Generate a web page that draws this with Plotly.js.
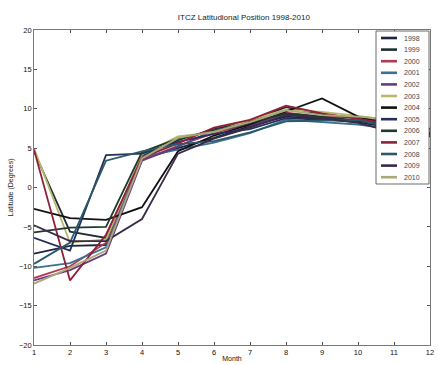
<!DOCTYPE html>
<html>
<head>
<meta charset="utf-8">
<script src="https://cdn.plot.ly/plotly-3.0.1.min.js"></script>
<style>html,body{margin:0;padding:0;background:#fff;}#chart{width:438px;height:365px;}</style>
</head>
<body>
<div id="chart"></div>
<script>
var months = [1,2,3,4,5,6,7,8,9,10,11,12];
var years = ['1998','1999','2000','2001','2002','2003','2004','2005','2006','2007','2008','2009','2010'];
var colors = ['#1c2440','#1f2f2f','#b03a55','#3a7090','#6a3a80','#b8b870','#111111','#25305a','#1f3a2a','#902038','#2a5a6a','#3a2a48','#a8a878'];

var y1998 = [-8.4, -7.4, -7.3, 3.6, 5.0, 6.3, 7.8, 9.0, 8.7, 8.3, 7.5, 7.1];
var y1999 = [4.6, -5.6, -6.4, 4.0, 6.0, 7.4, 8.4, 10.2, 9.3, 8.8, 8.3, 7.3];
var y2000 = [-11.5, -10.0, -7.0, 3.5, 5.3, 6.9, 8.1, 9.5, 9.0, 8.9, 8.1, 6.7];
var y2001 = [-10.2, -9.6, -7.6, 3.9, 4.8, 5.7, 6.9, 8.6, 8.3, 8.0, 7.4, 6.9];
var y2002 = [-11.8, -10.5, -8.4, 3.4, 5.2, 7.3, 7.9, 9.3, 8.9, 8.5, 7.7, 7.0];
var y2003 = [5.0, -7.0, -6.6, 4.2, 6.5, 7.0, 8.6, 9.9, 9.6, 9.1, 8.5, 7.5];
var y2004 = [-2.7, -3.9, -4.1, -2.5, 4.6, 6.6, 8.0, 9.7, 11.3, 9.0, 7.8, 6.8];
var y2005 = [-6.4, -8.0, 4.1, 4.3, 5.8, 6.8, 7.4, 8.8, 8.6, 8.4, 8.2, 7.4];
var y2006 = [-5.7, -5.1, -5.0, 4.5, 6.2, 7.2, 8.2, 9.4, 9.0, 8.5, 7.9, 7.2];
var y2007 = [4.8, -11.8, -6.0, 3.8, 5.6, 7.6, 8.6, 10.4, 9.4, 8.7, 8.0, 6.6];
var y2008 = [-9.7, -7.0, 3.4, 4.6, 5.5, 5.9, 7.0, 8.4, 8.5, 8.6, 7.6, 7.0];
var y2009 = [-4.8, -6.8, -6.8, -4.0, 4.3, 6.2, 7.6, 9.2, 8.8, 8.2, 7.0, 6.5];
var y2010 = [-12.2, -10.2, -8.0, 3.7, 6.3, 7.1, 8.3, 9.8, 9.2, 9.0, 8.6, 7.2];

var series = [y1998,y1999,y2000,y2001,y2002,y2003,y2004,y2005,y2006,y2007,y2008,y2009,y2010];

var traces = series.map(function(s, i){
  return {x: months, y: s, type:'scatter', mode:'lines', name: years[i],
          line:{color: colors[i], width:1.8}, showlegend:false};
});

// plot area in pixels: left 34, right 430, top 30, bottom 345
var L=34, R=430, T=30, B=345;
function px(x){ return (x-L)/(R-L); }
function py(y){ return (B-y)/(B-T); }

var shapes = [{type:'rect', xref:'paper', yref:'paper', x0:px(376), x1:px(429), y0:py(184), y1:py(31),
  fillcolor:'#ffffff', line:{color:'#444', width:0.8}, layer:'above'}];
var annotations = [];
years.forEach(function(yr, i){
  var yy = py(38 + i*11.6);
  shapes.push({type:'line', xref:'paper', yref:'paper', x0:px(381), x1:px(397), y0:yy, y1:yy,
    line:{color: colors[i], width:2.6}, layer:'above'});
  annotations.push({xref:'paper', yref:'paper', x:px(402), y:yy, text: yr, showarrow:false,
    xanchor:'left', yanchor:'middle', font:{family:'Liberation Sans, Arial, sans-serif', size:7, color:'#444'}});
});

var layout = {
  width:438, height:365,
  margin:{l:L, r:438-R, t:T, b:365-B, pad:0},
  paper_bgcolor:'#fff', plot_bgcolor:'#fff',
  font:{family:'Liberation Sans, Arial, sans-serif', size:7, color:'#222'},
  title:{text:'ITCZ Latitudional Position 1998-2010', x:0.53, xref:'paper', y:1-17/365, yref:'container', yanchor:'middle',
    font:{size:8, color:'#222'}},
  showlegend:false,
  xaxis:{range:[1,12], tickmode:'array', tickvals:months, ticktext:months.map(String),
    ticks:'inside', ticklen:3, tickcolor:'#555', showgrid:false, zeroline:false,
    showline:true, linecolor:'#555', linewidth:0.8, mirror:'ticks',
    tickfont:{size:7.5, color:'#111'},
    title:{text:'Month', standoff:0, font:{size:7, color:'#111'}}, automargin:false},
  yaxis:{range:[-20,20], tickmode:'array', tickvals:[-20,-15,-10,-5,0,5,10,15,20],
    ticks:'inside', ticklen:3, tickcolor:'#555', showgrid:false, zeroline:false,
    showline:true, linecolor:'#555', linewidth:0.8, mirror:'ticks',
    tickfont:{size:7.5, color:'#111'},
    title:{text:'Latitude (Degrees)', standoff:4, font:{size:7, color:'#222'}}, automargin:false},
  shapes: shapes,
  annotations: annotations
};

Plotly.newPlot('chart', traces, layout, {displayModeBar:false, staticPlot:true});
</script>
</body>
</html>
